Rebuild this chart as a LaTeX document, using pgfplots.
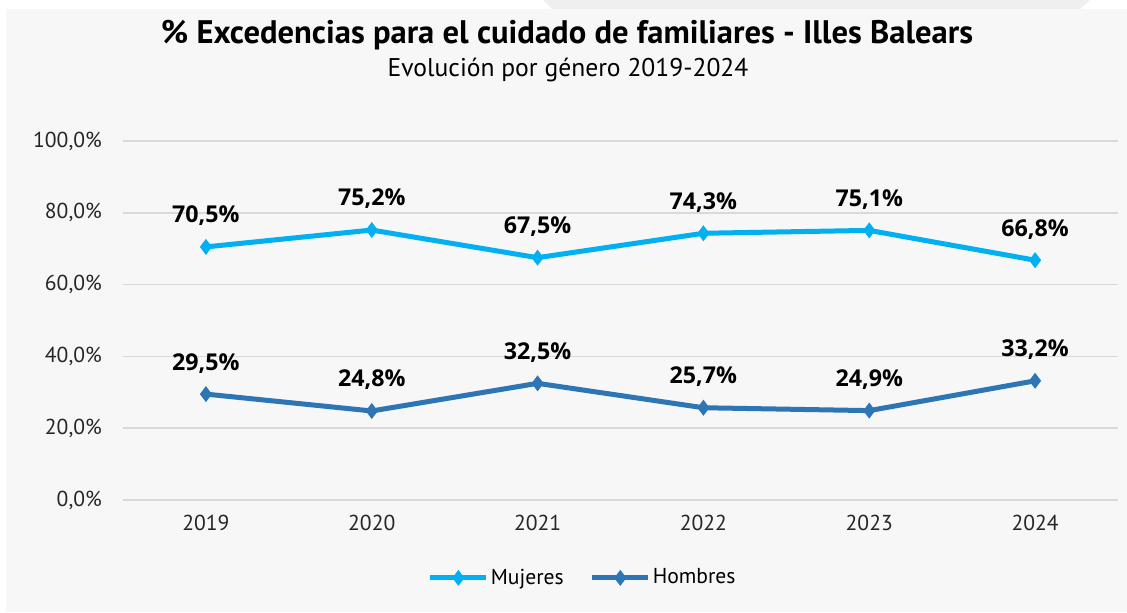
\documentclass[border=0pt]{standalone}
\usepackage{pgfplots}
\pgfplotsset{compat=1.18}
\usepackage{fontspec}
\setmainfont{PT Sans}
\newfontfamily\labelfont{Open Sans}
\definecolor{bgGray}{HTML}{F7F7F7}
\definecolor{topGray}{HTML}{EFEFEF}
\definecolor{gridGray}{HTML}{D9D9D9}
\definecolor{mujBlue}{HTML}{00B0F0}
\definecolor{homBlue}{HTML}{2E75B6}

\begin{document}
\begin{tikzpicture}
  % page is 1127 x 612 px at 0.5pt per px
  \fill[white] (0pt,0pt) rectangle (563.5pt,306pt);
  \fill[topGray] (271.5pt,306pt) -- (545pt,306pt) -- (540pt,301.5pt) -- (276pt,301.5pt) -- cycle;
  \fill[bgGray] (3pt,0pt) rectangle (563.5pt,301.5pt);
  \node[font=\bfseries\fontsize{16.3}{18}\selectfont] at (283.5pt,288.5pt)
    {\% Excedencias para el cuidado de familiares - Illes Balears};
  \node[font=\fontsize{12.8}{14}\selectfont] at (284pt,271pt)
    {Evolución por género 2019-2024};
  \begin{axis}[
    at={(61.5pt,56pt)}, anchor=south west,
    scale only axis, width=497.5pt, height=179.5pt,
    xmin=2018.5, xmax=2024.5, ymin=0, ymax=100,
    xtick={2019,2020,2021,2022,2023,2024},
    ytick={0,20,40,60,80,100},
    /pgf/number format/assume math mode=true,
    /pgf/number format/1000 sep={},
    yticklabel={\pgfmathprintnumber[fixed,fixed zerofill,precision=1,use comma]{\tick}\%},
    tick label style={font=\fontsize{10.8}{12}\selectfont, text=black!85},
    xticklabel style={yshift=-3pt},
    yticklabel style={xshift=-6pt},
    axis line style={draw=none},
    major tick length=0pt,
    ymajorgrids=true,
    grid style={draw=gridGray, line width=0.8pt},
    line width=2.5pt,
    nodes near coords={\pgfmathprintnumber[fixed,fixed zerofill,precision=1,use comma]{\pgfplotspointmeta}\%},
    nodes near coords style={font=\labelfont\bfseries\fontsize{11.6}{13}\selectfont, text=black, anchor=center, yshift=15.5pt},
    legend columns=2,
    legend style={at={(0.462,-0.217)}, anchor=center, draw=none, fill=none,
      font=\fontsize{10.8}{12}\selectfont, column sep=0pt,
      /tikz/every even column/.append style={column sep=12pt},
      nodes={inner xsep=1pt}},
    legend image code/.code={\draw[mark repeat=2,mark phase=2] plot coordinates {(0pt,0pt)(14pt,0pt)(28pt,0pt)};},
  ]
    \addplot[color=mujBlue, mark=diamond*, mark size=3.6pt, mark options={line width=0.5pt}]
      coordinates {(2019,70.5) (2020,75.2) (2021,67.5) (2022,74.3) (2023,75.1) (2024,66.8)};
    \addplot[color=homBlue, mark=diamond*, mark size=3.6pt, mark options={line width=0.5pt}]
      coordinates {(2019,29.5) (2020,24.8) (2021,32.5) (2022,25.7) (2023,24.9) (2024,33.2)};
    \legend{Mujeres,Hombres}
  \end{axis}
\end{tikzpicture}
\end{document}
